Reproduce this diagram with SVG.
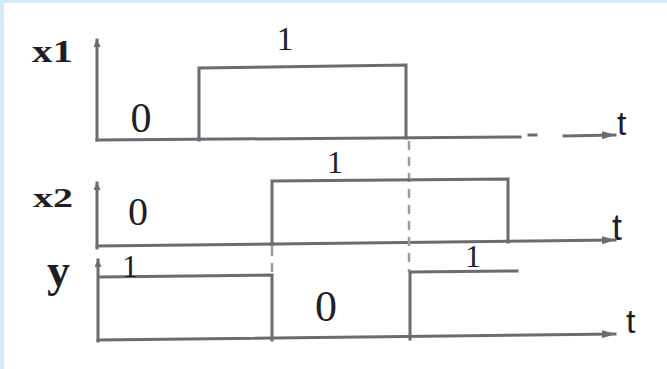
<svg xmlns="http://www.w3.org/2000/svg" width="667" height="369" viewBox="0 0 667 369">
<style>
.ln{fill:none;stroke:#6b6b73;stroke-width:3;stroke-linecap:square;stroke-linejoin:miter}
.dash{fill:none;stroke:#9a9aa0;stroke-width:2.5;stroke-dasharray:9 7}
.lbl{font-family:"Liberation Serif",serif;font-weight:bold;fill:#1e1e24}
.num{font-family:"Liberation Serif",serif;fill:#1e1e24}
.t{font-family:"Liberation Sans",sans-serif;fill:#1e1e24}
</style>
<defs>
<marker id="ah" markerWidth="14" markerHeight="8" refX="13" refY="4" orient="auto" markerUnits="userSpaceOnUse">
<path d="M0,0 L14,4 L0,8 Z" fill="#6b6b73"/>
</marker>
<marker id="as" markerWidth="8" markerHeight="7" refX="7" refY="3.5" orient="auto" markerUnits="userSpaceOnUse">
<path d="M0,0 L8,3.5 L0,7 Z" fill="#6b6b73"/>
</marker>
</defs>
<rect width="667" height="369" fill="#ffffff"/>
<rect x="0" y="0" width="667" height="3" fill="#d6ebf5"/>
<rect x="0" y="0" width="4" height="369" fill="#d6ebf5"/>
<g id="connectors">
<line class="ln" x1="97" y1="140" x2="97" y2="40" marker-end="url(#as)"/>
<line class="ln" x1="97" y1="140" x2="520" y2="137"/>
<line class="ln" x1="529" y1="135" x2="536" y2="135"/>
<line class="ln" x1="564" y1="136" x2="615" y2="135" marker-end="url(#ah)"/>
<line class="ln" x1="97" y1="248" x2="97" y2="183" marker-end="url(#as)"/>
<line class="ln" x1="97" y1="246" x2="615" y2="240" marker-end="url(#ah)"/>
<line class="ln" x1="98" y1="341" x2="98" y2="260" marker-end="url(#as)"/>
<line class="ln" x1="98" y1="340" x2="615" y2="334" marker-end="url(#ah)"/>
<line class="dash" x1="409" y1="141" x2="409" y2="272"/>
<line class="dash" x1="272" y1="247" x2="272" y2="276"/>
</g>
<g id="x1">
<text class="lbl" x="32" y="62" font-size="31" textLength="41" lengthAdjust="spacingAndGlyphs">x1</text>
<polyline class="ln" points="199,140 199,68 406,65 406,138"/>
<text class="num" x="141" y="132" font-size="42" text-anchor="middle">0</text>
<text class="num" x="285" y="50" font-size="34" text-anchor="middle">1</text>
<text class="t" x="617" y="135" font-size="34">t</text>
</g>
<g id="x2">
<text class="lbl" x="33" y="207" font-size="28" textLength="40" lengthAdjust="spacingAndGlyphs">x2</text>
<polyline class="ln" points="272,245 272,181 508,179 508,242"/>
<text class="num" x="138" y="225" font-size="40" text-anchor="middle">0</text>
<text class="num" x="335" y="173" font-size="32" text-anchor="middle">1</text>
<text class="t" x="612" y="240" font-size="36">t</text>
</g>
<g id="y">
<text class="lbl" x="47" y="286" font-size="46">y</text>
<polyline class="ln" points="100,277 272,275 272,340"/>
<polyline class="ln" points="410,339 410,272 517,271"/>
<text class="num" x="130" y="277" font-size="32" text-anchor="middle">1</text>
<text class="num" x="326" y="321" font-size="44" text-anchor="middle">0</text>
<text class="num" x="473" y="267" font-size="32" text-anchor="middle">1</text>
<text class="t" x="626" y="333" font-size="34">t</text>
</g>
</svg>
